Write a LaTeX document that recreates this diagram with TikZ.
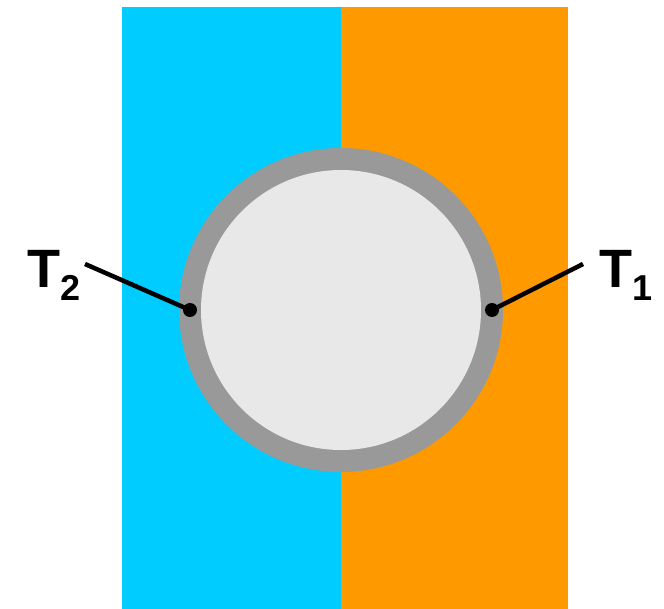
\documentclass[tikz,border=0pt]{standalone}
\usepackage{fontspec}
\setmainfont{Liberation Sans}
\usepackage{tikz}
\usetikzlibrary{positioning,calc}
\definecolor{coldblue}{RGB}{0,204,255}
\definecolor{hotorange}{RGB}{255,153,0}
\definecolor{wallgray}{RGB}{153,153,153}
\definecolor{corelight}{RGB}{232,232,232}
\tikzset{
  probe/.style={circle, fill=black, inner sep=0pt, minimum size=14pt},
  lead/.style={line width=4.5pt, draw=black},
  templabel/.style={inner sep=0pt, anchor=base, font=\bfseries},
}
\newcommand{\tlab}[1]{{\fontsize{54}{54}\selectfont T}\raisebox{-13pt}{\fontsize{36}{36}\selectfont #1}}

\begin{document}
\begin{tikzpicture}[x=1pt,y=-1pt]
    \useasboundingbox (0,0) rectangle (664,609);
    % the two baths
    \fill[coldblue]  (122,7) rectangle (341,609);
    \fill[hotorange] (341,7) rectangle (568,609);
    % tube wall and core
    \fill[wallgray]  (341,310) circle[radius=162];
    \fill[corelight] (341,310) circle[radius=140];
    % probes
    \node[probe] (t2) at (190,310) {};
    \node[probe] (t1) at (492,310) {};
    \node[templabel] (l2) at (54,288) {\tlab{2}};
    \node[templabel] (l1) at (626,288) {\tlab{1}};
    \coordinate (e2) at (85,264);
    \coordinate (e1) at (583,264);
    \draw[lead] (e2) -- (t2.center);
    \draw[lead] (e1) -- (t1.center);
\end{tikzpicture}
\end{document}
